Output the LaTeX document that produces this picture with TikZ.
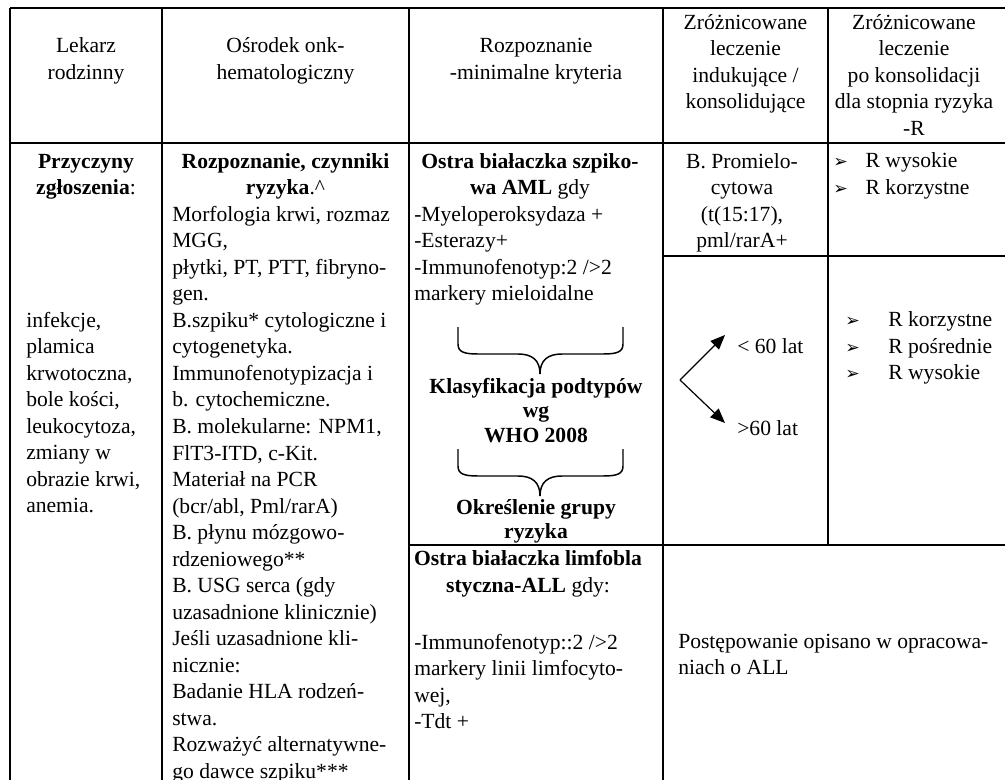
\documentclass[tikz,border=0pt]{standalone}
\usepackage{fontspec}
\setmainfont{Liberation Serif}
\newfontfamily\symfont{DejaVu Sans}
\usetikzlibrary{arrows.meta, positioning}

\newcommand{\cellfont}{\fontsize{16.2pt}{19.9pt}\selectfont}
\newcommand{\tightfont}{\fontsize{16.2pt}{18.5pt}\selectfont}
\newcommand{\pointer}{{\symfont\fontsize{13pt}{14pt}\selectfont ➢}}

\tikzset{
  rule/.style={line width=1.2pt},
  txt/.style={inner sep=0pt, font=\cellfont, anchor=north west, align=left},
  ctxt/.style={inner sep=0pt, font=\cellfont, anchor=north, align=center},
  bullet/.style={inner sep=0pt, anchor=base west},
  item/.style={inner sep=0pt, font=\cellfont},
  agearrow/.style={-{Triangle[length=11pt, width=9pt]}, line width=0.9pt},
  curly/.style={line width=1.1pt}
}

\begin{document}
\begin{tikzpicture}[x=0.75pt, y=-0.75pt]
\useasboundingbox (0,0) rectangle (1005,780);

% table rules
\draw[rule] (10,8) -- (1005,8);
\draw[rule] (10,143) -- (1005,143);
\draw[rule] (663,256) -- (1005,256);
\draw[rule] (409,545) -- (1005,545);
\foreach \x in {10,162,409,663}
  \draw[rule] (\x,8) -- (\x,780);
\draw[rule] (828,8) -- (828,545);

% header row
\node[ctxt] (hdrFamily) at (86,34) {\strut Lekarz\\rodzinny};
\node[ctxt] (hdrCentre) at (285.5,34) {\strut Ośrodek onk-\\hematologiczny};
\node[ctxt] (hdrDiag) at (536,34) {\strut Rozpoznanie\\-minimalne kryteria};
\node[ctxt] (hdrInduct) at (745.5,10.5) {\strut Zróżnicowane\\leczenie\\indukujące /\\konsolidujące};
\node[ctxt] (hdrConsol) at (914,10.5) {\strut Zróżnicowane\\leczenie\\po konsolidacji\\dla stopnia ryzyka\\-R};

% family doctor
\node[ctxt] (causeHead) at (86,149.4) {\strut\textbf{Przyczyny}\\\textbf{zgłoszenia}:};
\node[txt] (causeList) at (26,308.4) {\strut infekcje,\\plamica\\krwotoczna,\\bole kości,\\leukocytoza,\\zmiany w\\obrazie krwi,\\anemia.};

% onco-haematology centre
\node[ctxt] (workupHead) at (285.5,149.4) {\strut\textbf{Rozpoznanie, czynniki}\\\textbf{ryzyka}.\textasciicircum};
\node[txt] (workupList) at (172,202.4) {\strut Morfologia krwi, rozmaz\\MGG,\\płytki, PT, PTT, fibryno-\\gen.\\B.szpiku* cytologiczne i\\cytogenetyka.\\Immunofenotypizacja i\\b. cytochemiczne.\\B. molekularne: NPM1,\\FlT3-ITD, c-Kit.\\Materiał na PCR\\(bcr/abl, Pml/rarA)\\B. płynu mózgowo-\\rdzeniowego**\\B. USG serca (gdy\\uzasadnione klinicznie)\\Jeśli uzasadnione kli-\\nicznie:\\Badanie HLA rodzeń-\\stwa.\\Rozważyć alternatywne-\\go dawce szpiku***};

% AML criteria
\node[ctxt] (amlHead) at (530,149.4) {\strut\textbf{Ostra białaczka szpiko-}\\\textbf{wa AML} gdy};
\node[txt] (amlCrit) at (414,202.4) {\strut -Myeloperoksydaza +\\-Esterazy+\\-Immunofenotyp:2 />2\\markery mieloidalne};

\foreach \ytop in {327,449} {
  \draw[curly] (458,\ytop) -- (458,{\ytop+17}) .. controls (458,{\ytop+25}) and (464,{\ytop+27}) .. (478,{\ytop+27})
    -- (518,{\ytop+27}) .. controls (532,{\ytop+27}) and (540,{\ytop+33}) .. (540,{\ytop+47});
  \draw[curly] (623,\ytop) -- (623,{\ytop+17}) .. controls (623,{\ytop+25}) and (617,{\ytop+27}) .. (603,{\ytop+27})
    -- (562,{\ytop+27}) .. controls (548,{\ytop+27}) and (540,{\ytop+33}) .. (540,{\ytop+47});
}
\node[ctxt, font=\tightfont\bfseries] (whoClass) at (536,375.7) {\strut Klasyfikacja podtypów\\wg\\WHO 2008};
\node[ctxt, font=\tightfont\bfseries] (riskGroup) at (536,496.5) {\strut Określenie grupy\\ryzyka};

% induction / consolidation
\node[ctxt] (aplNote) at (742,149.4) {\strut B. Promielo-\\cytowa\\(t(15:17),\\pml/rarA+};
\coordinate (fork) at (680,380);
\coordinate (youngTip) at (725,335);
\coordinate (oldTip) at (725,423);
\draw[agearrow] (fork) -- (youngTip);
\draw[agearrow] (fork) -- (oldTip);
\node[item, anchor=west] (young) at (737,346) {< 60 lat};
\node[item, anchor=west] (old) at (737,428) {>60 lat};

% risk after consolidation
\foreach \lbl/\yy [count=\i] in {R wysokie/168, R korzystne/194.5} {
  \node[bullet] (aplRisk\i) at (833,\yy) {\pointer};
  \node[item, base right=13pt of aplRisk\i] (aplRiskTxt\i) {\lbl};
}
\foreach \lbl/\yy [count=\i] in {R korzystne/326.5, R pośrednie/353, R wysokie/379.5} {
  \node[bullet] (amlRisk\i) at (845,\yy) {\pointer};
  \node[item, base right=21pt of amlRisk\i] (amlRiskTxt\i) {\lbl};
}

% ALL row
\node[ctxt] (allHead) at (528,547) {\strut\textbf{Ostra białaczka limfobla}\\\textbf{styczna-ALL} gdy:};
\node[txt] (allCrit) at (414,630.4) {\strut -Immunofenotyp::2 />2\\markery linii limfocyto-\\wej,\\-Tdt +};
\node[txt] (allNote) at (678,629.4) {\strut Postępowanie opisano w opracowa-\\niach o ALL};
\end{tikzpicture}
\end{document}
